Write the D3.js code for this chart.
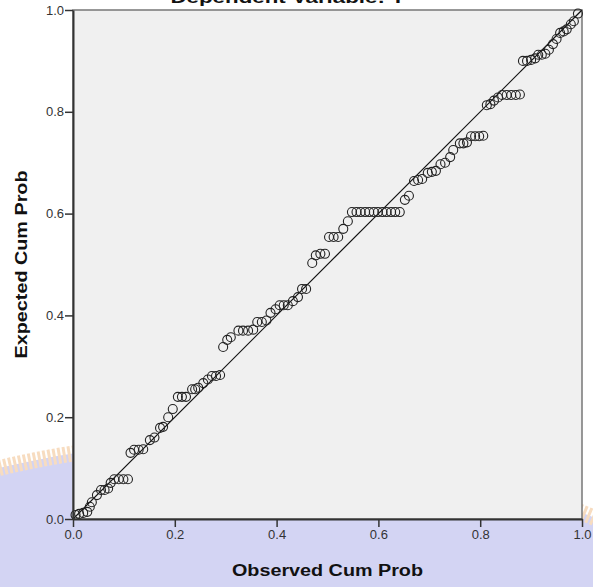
<!DOCTYPE html>
<html>
<head>
<meta charset="utf-8">
<script src="https://cdn.jsdelivr.net/npm/d3@7"></script>
<style>
  body { margin: 0; background: #fff; }
  svg { display: block; font-family: "Liberation Sans", Arial, sans-serif; }
</style>
</head>
<body>
<div id="chart"></div>
<script>
// observed cumulative probability (x) and expected cumulative probability (y)
const observed = [
  0.005, 0.012, 0.020, 0.028, 0.033, 0.037, 0.047, 0.055, 0.062, 0.069, 0.074, 0.081, 0.090, 0.099, 0.108,
  0.113, 0.120, 0.129, 0.138, 0.151, 0.160, 0.171, 0.177, 0.187, 0.196, 0.206, 0.214, 0.222, 0.234, 0.240,
  0.246, 0.256, 0.265, 0.273, 0.281, 0.289,
  0.295, 0.303, 0.310, 0.325, 0.334, 0.344, 0.354, 0.362, 0.371, 0.380, 0.388, 0.398, 0.406, 0.414, 0.422,
  0.432, 0.442, 0.450, 0.458,
  0.470, 0.477, 0.486, 0.495, 0.503, 0.512, 0.521, 0.531, 0.540,
  0.548, 0.557, 0.565, 0.574, 0.582, 0.591, 0.599, 0.608, 0.616, 0.625, 0.633, 0.642,
  0.652, 0.660, 0.670, 0.678, 0.686, 0.697, 0.705, 0.713, 0.722, 0.731, 0.741, 0.747, 0.760, 0.767, 0.774,
  0.782, 0.790, 0.798, 0.806,
  0.813, 0.820, 0.827, 0.835, 0.843, 0.852, 0.861, 0.870, 0.878,
  0.884, 0.892, 0.900, 0.908, 0.914, 0.921, 0.928, 0.935, 0.943, 0.950, 0.957, 0.964, 0.970, 0.978, 0.984, 0.992
];
const expected = [
  0.008, 0.010, 0.012, 0.014, 0.024, 0.033, 0.047, 0.057, 0.057, 0.060, 0.071, 0.078, 0.078, 0.078, 0.078,
  0.130, 0.136, 0.136, 0.137, 0.155, 0.160, 0.179, 0.181, 0.200, 0.216, 0.240, 0.240, 0.240, 0.255, 0.255,
  0.258, 0.267, 0.274, 0.281, 0.281, 0.283,
  0.338, 0.352, 0.357, 0.370, 0.370, 0.370, 0.372, 0.387, 0.387, 0.390, 0.405, 0.412, 0.420, 0.420, 0.420,
  0.428, 0.436, 0.452, 0.452,
  0.503, 0.518, 0.521, 0.521, 0.554, 0.554, 0.554, 0.570, 0.585,
  0.603, 0.603, 0.603, 0.603, 0.603, 0.603, 0.603, 0.603, 0.603, 0.603, 0.603, 0.603,
  0.627, 0.635, 0.664, 0.666, 0.668, 0.680, 0.682, 0.684, 0.697, 0.700, 0.711, 0.725, 0.738, 0.738, 0.740,
  0.752, 0.752, 0.752, 0.753,
  0.813, 0.815, 0.822, 0.828, 0.833, 0.833, 0.833, 0.833, 0.834,
  0.900, 0.900, 0.902, 0.905, 0.912, 0.912, 0.914, 0.922, 0.933, 0.943, 0.955, 0.958, 0.962, 0.972, 0.978, 0.993
];
const tickValues = [0, 0.2, 0.4, 0.6, 0.8, 1.0];
const chartTitle = 'Dependent Variable: Y';
const xTitle = 'Observed Cum Prob';
const yTitle = 'Expected Cum Prob';

const width = 593, height = 587;
const margin = { top: 10, right: 11, bottom: 68, left: 73 };
const innerW = width - margin.left - margin.right;
const innerH = height - margin.top - margin.bottom;

const svg = d3.select('#chart')
  .append('svg')
  .attr('width', width)
  .attr('height', height);

// faint watermark behind the chart
svg.append('circle')
  .attr('cx', 221)
  .attr('cy', 1400)
  .attr('r', 958)
  .attr('fill', '#d3d4f3')
  .attr('stroke', '#f7dcc0')
  .attr('stroke-width', 16)
  .attr('stroke-dasharray', '3 2');

const x = d3.scaleLinear().domain([0, 1]).range([0, innerW]);
const y = d3.scaleLinear().domain([0, 1]).range([innerH, 0]);

const chart = svg.append('g')
  .attr('transform', `translate(${margin.left}, ${margin.top})`);

chart.append('rect')
  .attr('width', innerW)
  .attr('height', innerH)
  .attr('fill', '#f0f0f0')
  .attr('stroke', '#777')
  .attr('stroke-width', 1.5);

// reference line
chart.append('line')
  .attr('x1', x(0)).attr('y1', y(0))
  .attr('x2', x(1)).attr('y2', y(1))
  .attr('stroke', '#111')
  .attr('stroke-width', 1.2);

chart.append('g')
  .selectAll('circle')
  .data(observed)
  .enter()
  .append('circle')
  .attr('cx', d => x(d))
  .attr('cy', (d, i) => y(expected[i]))
  .attr('r', 4.5)
  .attr('fill', 'none')
  .attr('stroke', '#222')
  .attr('stroke-width', 1.1);

const xAxis = chart.append('g')
  .attr('transform', `translate(0, ${innerH})`)
  .call(d3.axisBottom(x).tickValues(tickValues).tickFormat(d3.format('.1f')).tickSize(8).tickSizeOuter(0));
const yAxis = chart.append('g')
  .call(d3.axisLeft(y).tickValues(tickValues).tickFormat(d3.format('.1f')).tickSize(8).tickSizeOuter(0));

[xAxis, yAxis].forEach(a => {
  a.select('.domain').attr('stroke', '#333').attr('stroke-width', 2);
  a.selectAll('.tick line').attr('stroke', '#333').attr('stroke-width', 1.5);
  a.selectAll('.tick text').attr('fill', '#333').style('font-size', '13px');
});
xAxis.selectAll('.tick text').attr('y', 10).attr('dy', '0.8em');
yAxis.selectAll('.tick text').attr('x', -9);

svg.append('text')
  .attr('x', 288)
  .attr('y', 3)
  .attr('text-anchor', 'middle')
  .attr('textLength', 235)
  .attr('lengthAdjust', 'spacingAndGlyphs')
  .style('font-size', '17px')
  .style('font-weight', 'bold')
  .attr('fill', '#111')
  .text(chartTitle);

svg.append('text')
  .attr('x', margin.left + innerW / 2)
  .attr('y', 576)
  .attr('text-anchor', 'middle')
  .attr('textLength', 191)
  .attr('lengthAdjust', 'spacingAndGlyphs')
  .style('font-size', '16px')
  .style('font-weight', 'bold')
  .attr('fill', '#111')
  .text(xTitle);

svg.append('text')
  .attr('transform', `translate(27, ${margin.top + innerH / 2}) rotate(-90)`)
  .attr('text-anchor', 'middle')
  .attr('textLength', 188)
  .attr('lengthAdjust', 'spacingAndGlyphs')
  .style('font-size', '16px')
  .style('font-weight', 'bold')
  .attr('fill', '#111')
  .text(yTitle);
</script>
</body>
</html>
